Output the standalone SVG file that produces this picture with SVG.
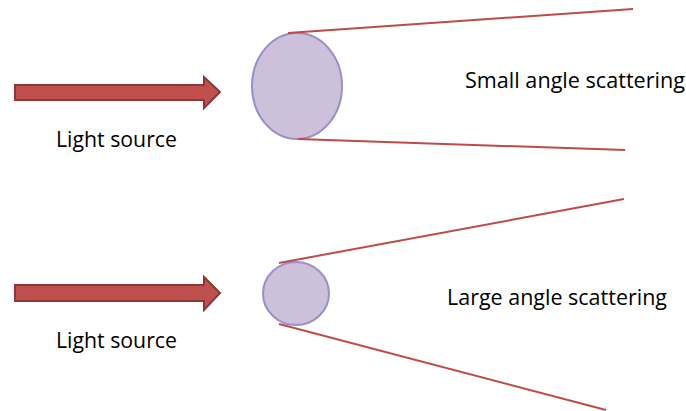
<svg xmlns="http://www.w3.org/2000/svg" width="686" height="411" viewBox="0 0 686 411">
<style>
.arrow{fill:#c0504d;stroke:#8c3836;stroke-width:2}
.particle{fill:#ccc0da;stroke:#9a8fc8;stroke-width:2}
.ray{stroke:#be4b48;stroke-width:2;fill:none}
.label{font-family:"Open Sans","Liberation Sans",sans-serif;font-size:21.5px;fill:#000}
</style>
<rect width="686" height="411" fill="#fff"/>
<g id="source1">
<polygon class="arrow" points="15,85 204,85 204,77 220,92 204,108 204,100 15,100"/>
<text class="label" x="56" y="147" textLength="121" lengthAdjust="spacingAndGlyphs">Light source</text>
</g>
<g id="particle1"><ellipse class="particle" cx="297" cy="86" rx="45" ry="53"/></g>
<g id="source2">
<polygon class="arrow" points="15,285 204,285 204,277 220,293 204,310 204,301 15,301"/>
<text class="label" x="56" y="348" textLength="121" lengthAdjust="spacingAndGlyphs">Light source</text>
</g>
<g id="particle2"><ellipse class="particle" cx="296" cy="293.5" rx="33" ry="31.5"/></g>
<g id="connectors">
<line class="ray" x1="288" y1="33" x2="633" y2="9"/>
<line class="ray" x1="298" y1="139" x2="625" y2="150"/>
<line class="ray" x1="279" y1="263" x2="624" y2="199"/>
<line class="ray" x1="279" y1="324" x2="606" y2="410"/>
</g>
<text class="label" x="465" y="88" textLength="220" lengthAdjust="spacingAndGlyphs">Small angle scattering</text>
<text class="label" x="447" y="305" textLength="220" lengthAdjust="spacingAndGlyphs">Large angle scattering</text>
</svg>
